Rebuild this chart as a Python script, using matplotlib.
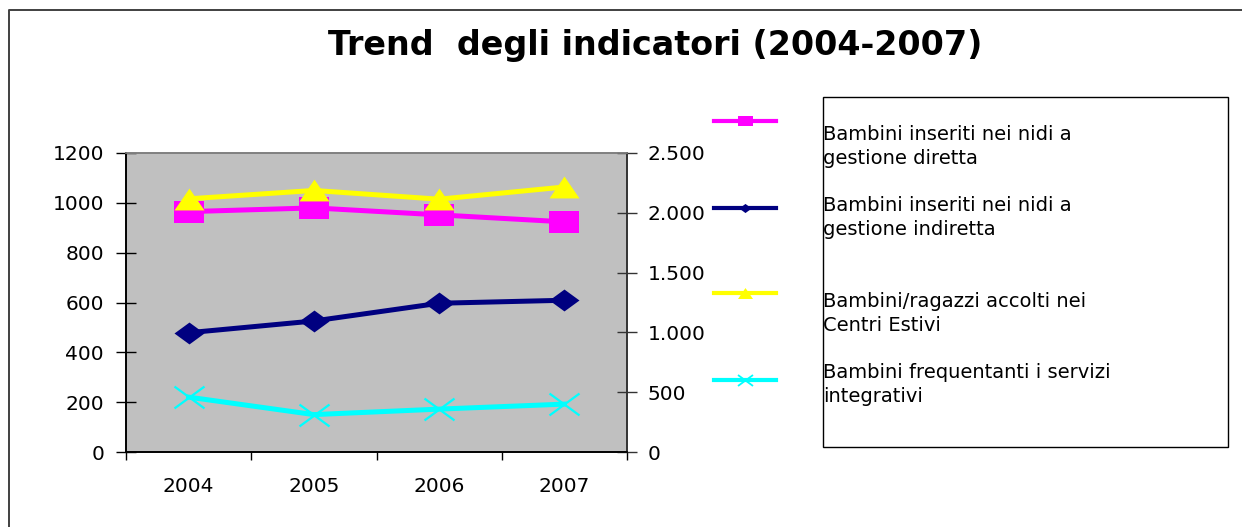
# Trend degli indicatori 2004-2007, two y axes (Excel style chart)
import matplotlib
matplotlib.use("Agg")
import matplotlib.pyplot as plt
from matplotlib.path import Path
from matplotlib.patches import Rectangle
from matplotlib.ticker import FuncFormatter

# data
years = ["2004", "2005", "2006", "2007"]
nidi_diretta = [964, 979, 951, 923]
nidi_indiretta = [479, 526, 597, 609]
servizi_integrativi = [221, 151, 173, 193]
centri_estivi = [2115, 2185, 2112, 2214]   # right axis

labels = [
    "Bambini inseriti nei nidi a\ngestione diretta",
    "Bambini inseriti nei nidi a\ngestione indiretta",
    "Bambini/ragazzi accolti nei\nCentri Estivi",
    "Bambini frequentanti i servizi\nintegrativi",
]
colors = ["#FF00FF", "#000080", "#FFFF00", "#00FFFF"]

# Excel markers are wider than tall
sq = [(-1, -0.73), (1, -0.73), (1, 0.73), (-1, 0.73)]
tri = [(0, 0.73), (-1, -0.73), (1, -0.73)]
dia = [(-1, 0), (0, 0.73), (1, 0), (0, -0.73)]
cross = Path([(-1, -0.73), (1, 0.73), (-1, 0.73), (1, -0.73)],
             [Path.MOVETO, Path.LINETO, Path.MOVETO, Path.LINETO])

W, H = 1242, 527
fig = plt.figure(figsize=(W / 100, H / 100), dpi=100)
fig.patch.set_facecolor("white")

ax = fig.add_axes([126 / W, 1 - 452.3 / H, 501 / W, 299.6 / H])
ax.set_facecolor("#C0C0C0")
x = range(len(years))
lw = 3.6
ms = 21.6

ax.plot(x, nidi_diretta, color=colors[0], lw=lw, marker=sq, ms=ms,
        markeredgewidth=0)
ax.plot(x, nidi_indiretta, color=colors[1], lw=lw, marker=dia, ms=ms,
        markeredgewidth=0)
ax.plot(x, servizi_integrativi, color=colors[3], lw=lw, marker=cross, ms=ms,
        markerfacecolor="none", markeredgecolor=colors[3], markeredgewidth=1.6)

ax.set_xlim(-0.5, 3.5)
ax.set_ylim(0, 1200)
ax.set_yticks(range(0, 1201, 200))
ax.set_xticks([-0.5, 0.5, 1.5, 2.5, 3.5])
ax.set_xticklabels([])
ax.set_xticks(list(x), minor=True)
ax.set_xticklabels(years, minor=True)
ax.tick_params(axis="x", which="major", direction="out", length=6, width=1, color="black")
ax.tick_params(axis="x", which="minor", length=0, pad=18, labelsize=14.5)
ax.tick_params(axis="y", direction="inout", length=14, width=1, pad=8.8, labelsize=14.5)

ax2 = ax.twinx()
ax2.plot(x, centri_estivi, color=colors[2], lw=lw, marker=tri, ms=ms,
         markeredgewidth=0)
ax2.set_ylim(0, 2500)
ax2.set_yticks(range(0, 2501, 500))
ax2.yaxis.set_major_formatter(FuncFormatter(lambda v, p: f"{int(v):,}".replace(",", ".")))
ax2.tick_params(axis="y", direction="inout", length=14, width=1, pad=8, labelsize=14.5,
                color="#333333")

for a in (ax, ax2):
    a.spines["left"].set_color("black")
    a.spines["bottom"].set_color("black")
    a.spines["top"].set_color("#808080")
    a.spines["right"].set_color("#333333")
    for s in a.spines.values():
        s.set_linewidth(1.2)

# overlay in pixel coords for the frame, title and legend
ov = fig.add_axes([0, 0, 1, 1])
ov.set_xlim(0, W)
ov.set_ylim(H, 0)
ov.axis("off")
ov.patch.set_alpha(0)

ov.plot([8.5, 8.5, W + 10], [H + 10, 9.7, 9.7], color="#404040", lw=1.4)

ov.text(655, 55, "Trend  degli indicatori (2004-2007)", ha="center", va="baseline",
        fontsize=24, fontweight="bold")

ov.add_patch(Rectangle((823, 96.5), 404.5, 350, fill=False, edgecolor="black", lw=1))

sample_y = [120.7, 207.7, 292.7, 380]
text_y = [125, 196, 292, 363.5]
leg_markers = [(sq, 10.8, 0), (dia, 9, 0), (tri, 10.8, 0), (cross, 10.8, 1.3)]
for c, lab, sy, ty, (m, mss, mew) in zip(colors, labels, sample_y, text_y, leg_markers):
    if mew:
        ov.plot([714, 745, 776], [sy, sy, sy], color=c, lw=3, marker=m, ms=mss,
                markevery=[1], markerfacecolor="none", markeredgecolor=c,
                markeredgewidth=mew)
    else:
        ov.plot([714, 745, 776], [sy, sy, sy], color=c, lw=3, marker=m, ms=mss,
                markevery=[1], markeredgewidth=0)
    ov.text(823, ty, lab, ha="left", va="top", fontsize=14, linespacing=1.32)

fig.savefig("out.png", dpi=100)
